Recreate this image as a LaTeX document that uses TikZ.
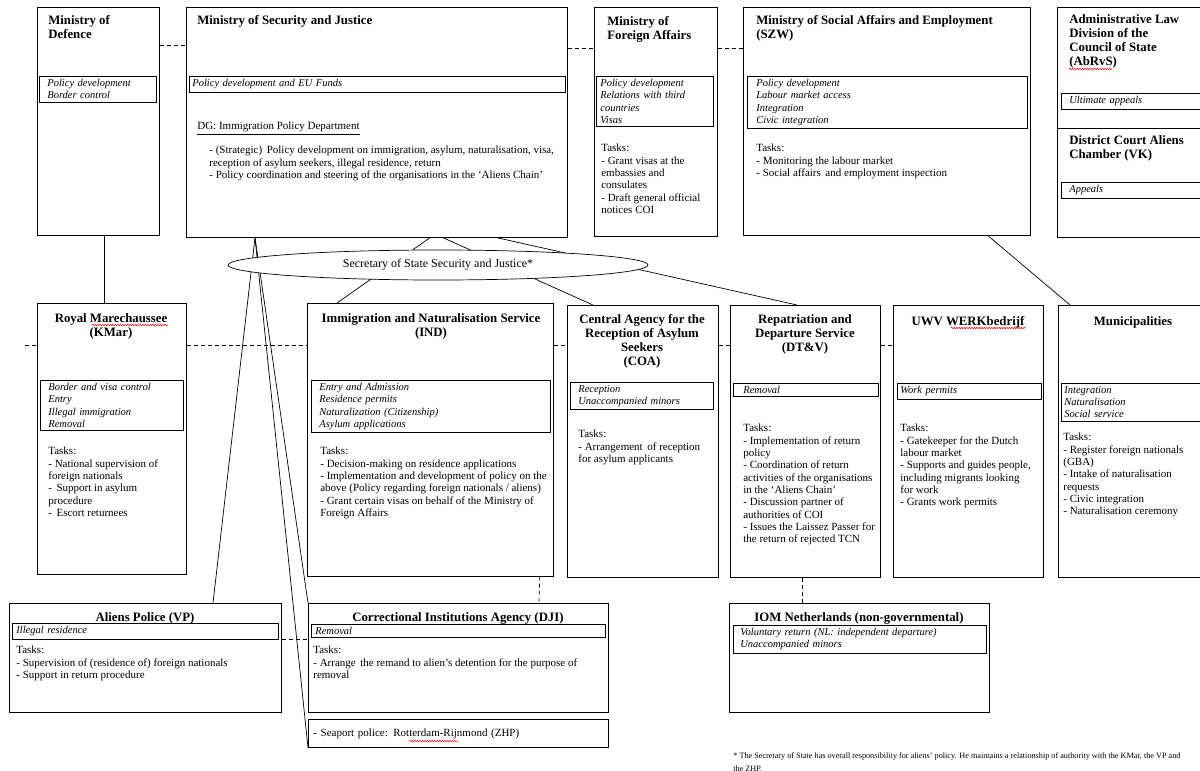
\documentclass[tikz,border=0pt]{standalone}
\usepackage{fontspec}
\setmainfont{Liberation Serif}
\usepackage{tikz}
\usetikzlibrary{shapes.geometric, decorations.pathmorphing}

\newcommand\hdfont{\bfseries\fontsize{12.8}{14}\selectfont}
\newcommand\txfont{\fontsize{11}{12.3}\selectfont}
\newcommand\itfont{\itshape\fontsize{10.5}{12.3}\selectfont}

\begin{document}
\begin{tikzpicture}[x=1pt, y=-1pt, line width=0.7pt]
\useasboundingbox (0,0) rectangle (1200,771);

\tikzstyle{org}=[draw, rectangle, anchor=north west, inner sep=0pt]
\tikzstyle{hd}=[anchor=north west, inner sep=0pt, align=left, font=\hdfont]
\tikzstyle{hdc}=[anchor=north, inner sep=0pt, align=center, font=\hdfont]
\tikzstyle{duty}=[draw, anchor=north west, inner xsep=4pt, inner ysep=3pt, align=left, font=\itfont]
\tikzstyle{tasks}=[anchor=north west, inner sep=0pt, align=left, font=\txfont]
\tikzstyle{link}=[dash pattern=on 4pt off 3pt]
\tikzstyle{typo}=[red, line width=0.5pt, decorate, decoration={snake, amplitude=0.7pt, segment length=2.5pt}]

% ministries
\node[org, minimum width=122pt, minimum height=228pt] (mod) at (37,7) {};
\node[hd] (modH) at (48,15) {Ministry of\\Defence};
\node[duty, inner xsep=8pt, text width=101pt] (modD) at (39,76) {Policy development\\Border control};

\node[org, minimum width=381pt, minimum height=230pt] (msj) at (186,7) {};
\node[hd] (msjH) at (197,15) {Ministry of Security and Justice};
\node[duty, inner xsep=3pt, text width=370pt] (msjD) at (189,76) {Policy development and EU Funds};
\node[tasks] (msjG) at (197,122) {\underline{DG: Immigration Policy Department}};
\node[tasks] (msjT) at (209,146) {- (Strategic)\, Policy development on immigration, asylum, naturalisation, visa,\\reception of asylum seekers, illegal residence, return\\- Policy coordination and steering of the organisations in the `Aliens Chain'};

\node[org, minimum width=123pt, minimum height=229pt] (mfa) at (594,7) {};
\node[hd] (mfaH) at (607,16) {Ministry of\\Foreign Affairs};
\node[duty, text width=109pt] (mfaD) at (596,76) {Policy development\\Relations with third\\countries\\Visas};
\node[tasks] (mfaT) at (601,144) {Tasks:\\- Grant visas at the\\embassies and\\consulates\\- Draft general official\\notices COI};

\node[org, minimum width=287pt, minimum height=228pt] (szw) at (743,7) {};
\node[hd] (szwH) at (756,15) {Ministry of Social Affairs and Employment\\(SZW)};
\node[duty, inner xsep=9pt, text width=262pt] (szwD) at (747,76) {Policy development\\Labour market access\\Integration\\Civic integration};
\node[tasks] (szwT) at (756,144) {Tasks:\\- Monitoring the labour market\\- Social affairs\, and employment inspection};

% courts
\node[org, minimum width=170pt, minimum height=121pt] (abrvs) at (1057,7) {};
\node[hd] (abrvsH) at (1069,14) {Administrative Law\\Division of the\\Council of State\\(AbRvS)};
\node[duty, inner xsep=8pt, text width=150pt] (abrvsD) at (1061,93) {Ultimate appeals};
\node[org, minimum width=170pt, minimum height=109pt] (vk) at (1057,128) {};
\node[hd] (vkH) at (1069,135) {District Court Aliens\\Chamber (VK)};
\node[duty, inner xsep=8pt, text width=150pt] (vkD) at (1061,182) {Appeals};

% executive organisations
\node[org, minimum width=149pt, minimum height=271pt] (kmar) at (37,303) {};
\node[hdc] (kmarH) at (111,313) {Royal Marechaussee\\(KMar)};
\node[duty, inner xsep=8pt, text width=127pt] (kmarD) at (40,380) {Border and visa control\\Entry\\Illegal immigration\\Removal};
\node[tasks] (kmarT) at (48,447) {Tasks:\\- National supervision of\\foreign nationals\\-\, Support in asylum\\procedure\\-\, Escort returnees};

\node[org, minimum width=246pt, minimum height=273pt] (ind) at (307,303) {};
\node[hdc] (indH) at (431,313) {Immigration and Naturalisation Service\\(IND)};
\node[duty, inner xsep=8pt, text width=223pt] (indD) at (311,380) {Entry and Admission\\Residence permits\\Naturalization (Citizenship)\\Asylum applications};
\node[tasks] (indT) at (320,447) {Tasks:\\- Decision-making on residence applications\\- Implementation and development of policy on the\\above (Policy regarding foreign nationals / aliens)\\- Grant certain visas on behalf of the Ministry of\\Foreign Affairs};

\node[org, minimum width=151pt, minimum height=272pt] (coa) at (567,305) {};
\node[hdc] (coaH) at (642,314) {Central Agency for the\\Reception of Asylum\\Seekers\\(COA)};
\node[duty, inner xsep=8pt, text width=127pt] (coaD) at (570,382) {Reception\\Unaccompanied minors};
\node[tasks] (coaT) at (578,430) {Tasks:\\- Arrangement\, of reception\\for asylum applicants};

\node[org, minimum width=150pt, minimum height=272pt] (dtv) at (730,305) {};
\node[hdc] (dtvH) at (805,314) {Repatriation and\\Departure Service\\(DT\&V)};
\node[duty, inner xsep=10pt, text width=125pt] (dtvD) at (733,383) {Removal};
\node[tasks] (dtvT) at (743,424) {Tasks:\\- Implementation of return\\policy\\- Coordination of return\\activities of the organisations\\in the `Aliens Chain'\\- Discussion partner of\\authorities of COI\\- Issues the Laissez Passer for\\the return of rejected TCN};

\node[org, minimum width=150pt, minimum height=272pt] (uwv) at (893,305) {};
\node[hdc] (uwvH) at (968,316) {UWV WERKbedrijf};
\node[duty, inner xsep=3pt, text width=138pt] (uwvD) at (897,383) {Work permits};
\node[tasks] (uwvT) at (900,424) {Tasks:\\- Gatekeeper for the Dutch\\labour market\\- Supports and guides people,\\including migrants looking\\for work\\- Grants work permits};

\node[org, minimum width=170pt, minimum height=272pt] (gem) at (1058,305) {};
\node[hdc] (gemH) at (1133,316) {Municipalities};
\node[duty, inner xsep=3pt, text width=160pt] (gemD) at (1061,383) {Integration\\Naturalisation\\Social service};
\node[tasks] (gemT) at (1063,433) {Tasks:\\- Register foreign nationals\\(GBA)\\- Intake of naturalisation\\requests\\- Civic integration\\- Naturalisation ceremony};

% police and detention
\node[org, minimum width=272pt, minimum height=109pt] (vp) at (9,603) {};
\node[hdc] (vpH) at (145,612) {Aliens Police (VP)};
\node[duty, text width=258pt] (vpD) at (12,623) {Illegal residence};
\node[tasks] (vpT) at (16,646) {Tasks:\\- Supervision of (residence of) foreign nationals\\- Support in return procedure};

\node[org, minimum width=300pt, minimum height=109pt] (dji) at (308,603) {};
\node[hdc] (djiH) at (458,612) {Correctional Institutions Agency (DJI)};
\node[duty, text width=286pt] (djiD) at (311,624) {Removal};
\node[tasks] (djiT) at (313,646) {Tasks:\\- Arrange\, the remand to alien's detention for the purpose of\\removal};

\node[org, minimum width=300pt, minimum height=28pt, align=left, text width=290pt, inner xsep=5pt, font=\txfont] (zhp) at (308,719) {- Seaport police: Rotterdam-Rijnmond (ZHP)};

\node[org, minimum width=260pt, minimum height=109pt] (iom) at (729,603) {};
\node[hdc] (iomH) at (859,612) {IOM Netherlands (non-governmental)};
\node[duty, inner xsep=7pt, text width=239pt] (iomD) at (733,625) {Voluntary return (NL: independent departure)\\Unaccompanied minors};

\node[anchor=north west, inner sep=0pt, align=left, font=\fontsize{8.2}{13}\selectfont] (note) at (733,752) {* The Secretary of State has overall responsibility for aliens' policy. He maintains a relationship of authority with the KMar, the VP and\\the ZHP.};

% spelling marks
\draw[typo] (92,325) -- (168,325);
\draw[typo] (951,328) -- (1026,328);
\draw[typo] (1069,69) -- (1112,69);
\draw[typo] (409,741) -- (458,741);

% lines of authority
\draw ([xshift=67pt]mod.south west) -- ([xshift=67pt]kmar.north west);
\draw ([xshift=69pt]msj.south west) -- ([xshift=204pt]vp.north west);
\draw ([xshift=69pt]msj.south west) -- (dji.north west);
\draw ([xshift=69pt]msj.south west) -- (zhp.south west);
\draw ([xshift=244pt]msj.south west) -- ([xshift=30pt]ind.north west);
\draw ([xshift=257pt]msj.south west) -- ([xshift=26pt]coa.north west);
\draw ([xshift=311pt]msj.south west) -- ([xshift=67pt]dtv.north west);
\draw ([xshift=245pt]szw.south west) -- ([xshift=12pt]gem.north west);

\node[ellipse, draw, fill=white, minimum width=420pt, minimum height=30pt, inner sep=0pt, font=\fontsize{12}{14}\selectfont] (sec) at (438,265) {Secretary of State Security and Justice*};

% cooperation
\draw[link] ([yshift=-38pt]mod.north east) -- ([yshift=-38pt]msj.north west);
\draw[link] ([yshift=-41pt]msj.north east) -- ([yshift=-41pt]mfa.north west);
\draw[link] ([yshift=-41pt]mfa.north east) -- ([yshift=-41pt]szw.north west);
\coordinate (lft) at (25,345);
\draw[link] (lft) -- (lft -| kmar.west);
\draw[link] (lft -| kmar.east) -- (lft -| ind.west);
\draw[link] (lft -| ind.east) -- (lft -| coa.west);
\draw[link] (lft -| coa.east) -- (lft -| dtv.west);
\draw[link] (lft -| dtv.east) -- (lft -| uwv.west);
\draw[link] ([yshift=-36pt]vp.north east) -- ([yshift=-36pt]dji.north west);
\draw[link] ([xshift=-14pt]ind.south east) -- ([xshift=231pt]dji.north west);
\draw[link] ([xshift=72pt]dtv.south west) -- ([xshift=73pt]iom.north west);
\end{tikzpicture}
\end{document}
